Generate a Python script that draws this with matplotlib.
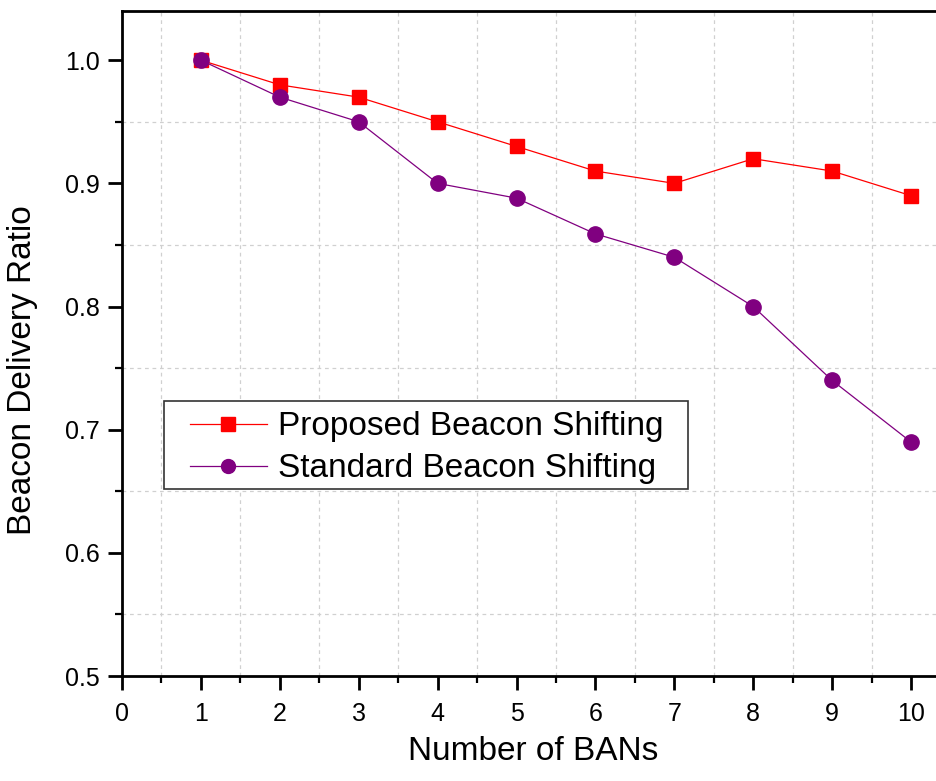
import matplotlib.pyplot as plt
from matplotlib.patches import Rectangle
from matplotlib.ticker import MultipleLocator

plt.rcParams['font.family'] = ['Liberation Sans', 'DejaVu Sans']

n_bans = [1, 2, 3, 4, 5, 6, 7, 8, 9, 10]
proposed = [1.0, 0.98, 0.97, 0.95, 0.93, 0.91, 0.90, 0.92, 0.91, 0.89]
standard = [1.0, 0.97, 0.95, 0.90, 0.888, 0.859, 0.84, 0.80, 0.74, 0.69]

fig = plt.figure(figsize=(9.36, 7.81), dpi=100)
ax = fig.add_axes([0.1303, 0.1344, 0.8852, 0.8516])

ax.plot(n_bans, proposed, color='#ff0000', lw=0.9, marker='s', ms=10.5,
        label='Proposed Beacon Shifting')
ax.plot(n_bans, standard, color='#800080', lw=0.9, marker='o', ms=11,
        label='Standard Beacon Shifting')

ax.set_xlim(0, 10.5)
ax.set_ylim(0.5, 1.04)
ax.xaxis.set_major_locator(MultipleLocator(1))
ax.xaxis.set_minor_locator(MultipleLocator(0.5))
ax.yaxis.set_minor_locator(MultipleLocator(0.05))
ax.set_yticks([0.5, 0.6, 0.7, 0.8, 0.9, 1.0])
ax.set_yticklabels(['0.5', '0.6', '0.7', '0.8', '0.9', '1.0'])

# dashed grid only on the minor positions
ax.grid(which='minor', color='#d0d0d0', ls=(0, (3, 3)), lw=0.9)
ax.grid(which='major', visible=False)
ax.set_axisbelow(True)

ax.tick_params(which='major', direction='out', length=10, width=2, labelsize=18, pad=6)
ax.tick_params(axis='x', which='major', pad=9)
ax.tick_params(which='minor', direction='out', length=5, width=1.6)
for side in ['left', 'bottom', 'top', 'right']:
    ax.spines[side].set_linewidth(2)

ax.set_xlabel('Number of BANs', fontsize=24)
ax.set_ylabel('Beacon Delivery Ratio', fontsize=24)
ax.xaxis.set_label_coords(0.496, -0.09)
ax.yaxis.set_label_coords(-0.101, 0.46)

# legend frame drawn by hand (Origin style: wider side margins than top/bottom)
ax.add_patch(Rectangle((0.0507, 0.2812), 0.6325, 0.1323, transform=ax.transAxes,
                       facecolor='white', edgecolor='#333333', lw=1.2, zorder=4))
leg = ax.legend(loc='center left', bbox_to_anchor=(0.0821, 0.343), borderaxespad=0,
                fontsize=24, frameon=False, handlelength=2.3, borderpad=0,
                labelspacing=0.33, handletextpad=0.33)
leg.set_zorder(5)
for h in leg.legend_handles:
    h.set_markersize(10)

fig.savefig('out.png', dpi=100)
